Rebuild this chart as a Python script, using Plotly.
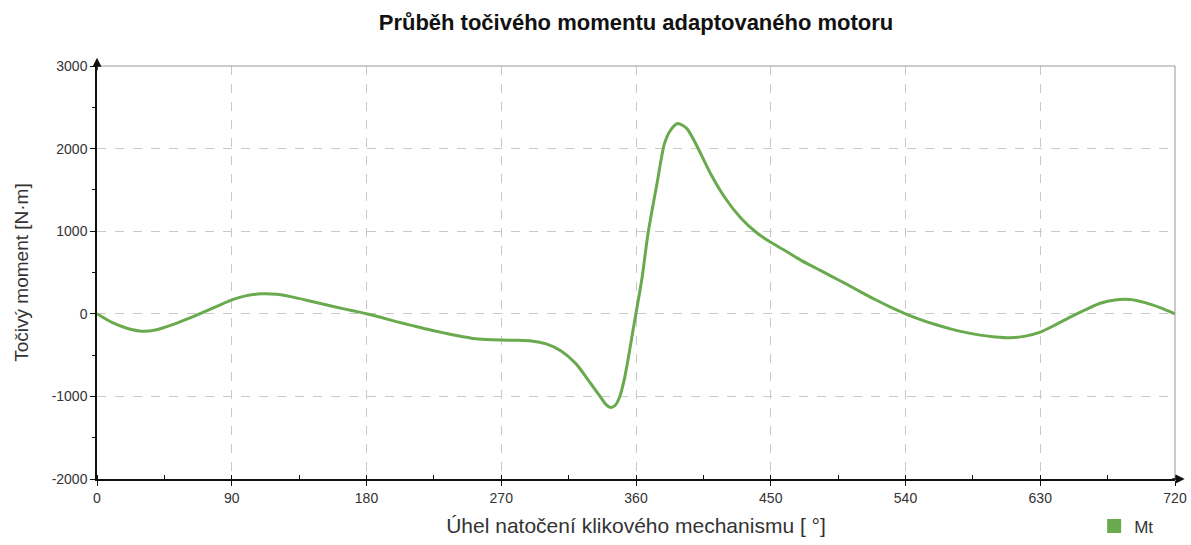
import plotly.graph_objects as go

angle_deg = [0, 10, 20, 30, 40, 50, 60, 70, 80, 90, 100, 110, 120, 130, 140, 150, 160, 170, 180,
             190, 200, 210, 220, 230, 240, 250, 260, 270, 280, 290, 300, 310, 320, 330, 336, 340, 343, 346,
             349, 352, 355, 358, 361, 364, 368, 374, 379, 383, 388, 394, 401, 410, 420, 430, 440, 450, 460,
             470, 480, 490, 500, 510, 520, 530, 540, 550, 560, 570, 580, 590, 600, 610, 620, 630, 640, 650,
             660, 670, 680, 690, 700, 710, 720]
torque_nm = [0, -105, -175, -212, -192, -135, -65, 10, 90, 168, 220, 242, 236, 205, 165, 122, 80, 40, 0,
             -45, -95, -140, -185, -225, -262, -295, -312, -318, -320, -328, -365, -450, -606, -850, -1000, -1100, -1135, -1110,
             -1010, -810, -520, -200, 110, 430, 968, 1575, 2060, 2222, 2303, 2242, 2020, 1690, 1390, 1160, 990, 865, 760,
             650, 555, 460, 365, 265, 170, 82, 0, -70, -130, -182, -225, -258, -280, -290, -270, -222, -135, -40,
             48, 128, 168, 172, 135, 75, 0]

x_ticks = [0, 90, 180, 270, 360, 450, 540, 630, 720]
y_ticks = [-2000, -1000, 0, 1000, 2000, 3000]

title_text = "Průběh točivého momentu adaptovaného motoru"
x_title = "Úhel natočení klikového mechanismu [ °]"
y_title = "Točivý moment [N·m]"
series_name = "Mt"

green = "#6aaa4f"
font_family = "Liberation Sans, Arial, sans-serif"

fig = go.Figure()
fig.add_trace(go.Scatter(x=angle_deg, y=torque_nm, mode="lines",
                         line=dict(color=green, width=3, shape="spline", smoothing=0.7),
                         showlegend=False, hoverinfo="x+y"))
fig.add_trace(go.Scatter(x=[None], y=[None], mode="markers", name=series_name,
                         marker=dict(symbol="square", size=14, color=green)))

fig.update_layout(
    width=1191, height=545,
    margin=dict(l=97, r=16, t=66, b=66, autoexpand=False),
    paper_bgcolor="white", plot_bgcolor="white",
    font=dict(family=font_family, color="#222"),
    title=dict(text="<b>" + title_text + "</b>", x=0.5, xref="paper", xanchor="center",
               y=0.96, yref="container", yanchor="middle", font=dict(size=22, color="#111")),
    showlegend=True,
    legend=dict(x=0.925, y=-0.115, xanchor="left", yanchor="middle", font=dict(size=17, color="#333"),
                bgcolor="rgba(0,0,0,0)", itemwidth=30),
)

fig.update_xaxes(
    range=[0, 720], tickvals=x_ticks, ticktext=[str(v) for v in x_ticks], automargin=False,
    showgrid=True, gridcolor="#c8c8c8", griddash="dash", gridwidth=1,
    showline=True, linecolor="#111", linewidth=1.5, zeroline=False,
    ticks="outside", ticklen=5, tickcolor="#111", tickfont=dict(size=14, color="#333"),
    minor=dict(dtick=45, tick0=0, ticks="inside", ticklen=4, tickcolor="#111", showgrid=False),
    title=dict(text=x_title, font=dict(size=21, color="#333"), standoff=14),
)
fig.update_yaxes(
    range=[-2000, 3000], tickvals=y_ticks, ticktext=[str(v) for v in y_ticks], automargin=False,
    showgrid=True, gridcolor="#c8c8c8", griddash="dash", gridwidth=1,
    showline=True, linecolor="#111", linewidth=1.5, zeroline=False,
    ticks="outside", ticklen=5, tickcolor="#111", tickfont=dict(size=14, color="#333"),
    minor=dict(dtick=500, tick0=0, ticks="outside", ticklen=3, tickcolor="#111", showgrid=False),
    title=dict(text=y_title, font=dict(size=19, color="#333"), standoff=18),
)

# top and right frame lines
fig.add_shape(type="line", xref="paper", yref="paper", x0=0, x1=1, y0=1, y1=1, line=dict(color="#999", width=1))
fig.add_shape(type="line", xref="paper", yref="paper", x0=1, x1=1, y0=0, y1=1, line=dict(color="#999", width=1))

# axis arrows
fig.add_annotation(xref="paper", yref="paper", x=0, y=1.02, ax=0, ay=14, axref="pixel", ayref="pixel",
                   showarrow=True, arrowhead=2, arrowsize=1.2, arrowwidth=1.5, arrowcolor="#111", text="")
fig.add_annotation(xref="paper", yref="paper", x=1.009, y=0, ax=-14, ay=0, axref="pixel", ayref="pixel",
                   showarrow=True, arrowhead=2, arrowsize=1.2, arrowwidth=1.5, arrowcolor="#111", text="")

fig.write_html("out.html", config={"displayModeBar": False},
               post_script="document.body.style.margin='0';document.body.style.overflow='hidden';")
